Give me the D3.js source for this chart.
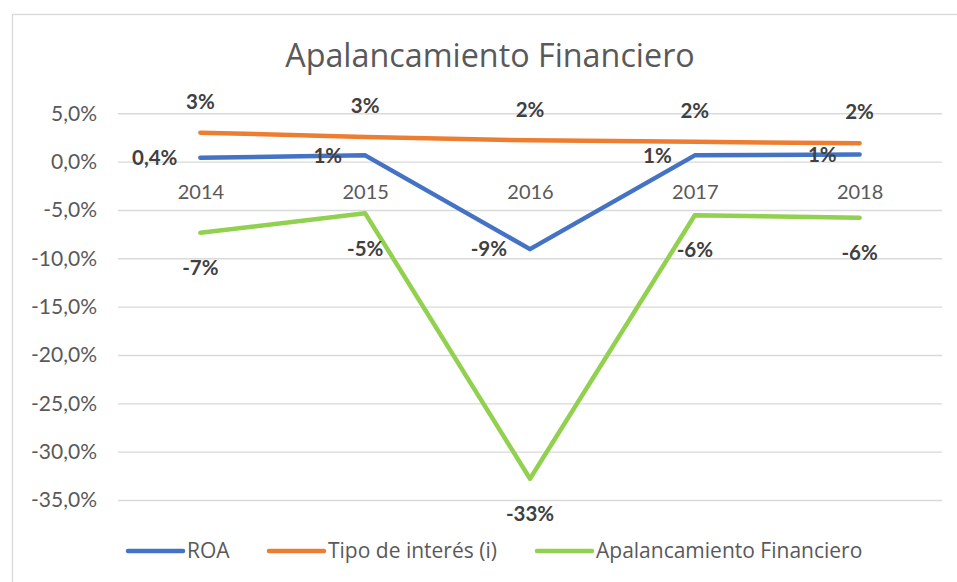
<!DOCTYPE html>
<html><head><meta charset="utf-8">
<script src="https://cdn.jsdelivr.net/npm/d3@7"></script>
<style>body{margin:0;background:#fff}svg{display:block}</style>
</head><body><svg id="c" width="957" height="582" font-family="Lato, sans-serif"></svg>
<script>
const years = ["2014","2015","2016","2017","2018"];
const roa = [0.4, 0.65, -9.05, 0.65, 0.75];
const tipo = [3.0, 2.55, 2.2, 2.05, 1.9];
const apal = [-7.35, -5.35, -32.8, -5.55, -5.8];
const roaLabels = ["0,4%","1%","-9%","1%","1%"];
const tipoLabels = ["3%","3%","2%","2%","2%"];
const apalLabels = ["-7%","-5%","-33%","-6%","-6%"];
const yTicks = [5,0,-5,-10,-15,-20,-25,-30,-35];
const title = "Apalancamiento Financiero";
const seriesNames = ["ROA","Tipo de interés (i)","Apalancamiento Financiero"];
const colors = ["#4472C4","#ED7D31","#92D050"];

const svg = d3.select("#c");
const loc = d3.formatLocale({decimal:",",thousands:".",grouping:[3],currency:["","€"],minus:"-"});
const fmt = loc.format(".1f");

svg.append("rect").attr("x",12.5).attr("y",14.5).attr("width",960).attr("height",600)
  .attr("fill","#fff").attr("stroke","#D9D9D9").attr("stroke-width",1.3);

const x = d3.scalePoint().domain(years).range([118,942]).padding(0.5);
const y = d3.scaleLinear().domain([-35,5]).range([500,113.3]);

svg.append("text").attr("x",490).attr("y",67).attr("text-anchor","middle")
  .attr("font-family","Open Sans").attr("font-size",32.3).attr("fill","#595959").text(title);

const yAxis = svg.append("g").attr("transform","translate(118,0)")
  .call(d3.axisLeft(y).tickValues(yTicks).tickSizeInner(-824).tickSizeOuter(0).tickPadding(21)
    .tickFormat(d=>fmt(d)+"%"));
yAxis.select(".domain").remove();
yAxis.selectAll(".tick line").attr("stroke","#D9D9D9").attr("stroke-width",1.4);
yAxis.selectAll(".tick text").attr("font-size",21).attr("fill","#595959").attr("font-family","Lato");

// category labels near zero line
const xAxis = svg.append("g").attr("transform",`translate(0,${y(0)})`)
  .call(d3.axisBottom(x).tickSize(0).tickPadding(23));
xAxis.select(".domain").remove();
xAxis.selectAll(".tick text").attr("font-size",20).attr("fill","#595959").attr("font-family","Lato");

const line = d3.line().x((d,i)=>x(years[i])).y(d=>y(d));
const data = [roa,tipo,apal];
data.forEach((s,k)=>{
  svg.append("path").datum(s).attr("d",line).attr("fill","none")
    .attr("stroke",colors[k]).attr("stroke-width",4.5)
    .attr("stroke-linecap","round").attr("stroke-linejoin","round");
});

const lab = svg.append("g").attr("font-size",20.5).attr("font-weight","bold").attr("fill","#404040");
roa.forEach((v,i)=>{
  lab.append("text").attr("x",x(years[i])-23).attr("y",y(v)).attr("dy","0.35em")
    .attr("text-anchor","end").text(roaLabels[i]);
});
tipo.forEach((v,i)=>{
  lab.append("text").attr("x",x(years[i])).attr("y",y(v)-31).attr("dy","0.35em")
    .attr("text-anchor","middle").text(tipoLabels[i]);
});
apal.forEach((v,i)=>{
  lab.append("text").attr("x",x(years[i])).attr("y",y(v)+35).attr("dy","0.35em")
    .attr("text-anchor","middle").text(apalLabels[i]);
});

// legend
const legX = [128,269,537];
const leg = svg.append("g");
seriesNames.forEach((n,k)=>{
  leg.append("line").attr("x1",legX[k]).attr("x2",legX[k]+55).attr("y1",551).attr("y2",551)
    .attr("stroke",colors[k]).attr("stroke-width",4.5).attr("stroke-linecap","round");
  leg.append("text").attr("x",legX[k]+59).attr("y",551).attr("dy","0.35em")
    .attr("font-family","Open Sans").attr("font-size",21).attr("fill","#595959").text(n);
});
</script></body></html>
